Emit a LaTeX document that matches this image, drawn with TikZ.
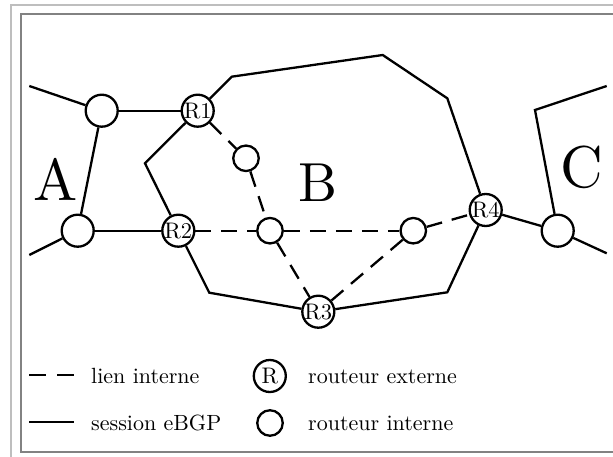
\documentclass[tikz,border=0pt]{standalone}
\usepackage{fontspec}
\setmainfont{lmroman10-regular.otf}
\begin{document}
\begin{tikzpicture}[x=1pt,y=-1pt,
  ext/.style={circle,draw,line width=2.3pt,fill=white,minimum size=32pt,inner sep=0pt,font=\fontsize{22.5}{26}\selectfont},
  int/.style={circle,draw,line width=2.3pt,fill=white,minimum size=25.5pt,inner sep=0pt},
  sess/.style={line width=2.3pt},
  lien/.style={line width=2.3pt,dash pattern=on 16pt off 10pt},
  leg/.style={anchor=base west,inner sep=0pt,font=\fontsize{22}{26}\selectfont},
  big/.style={anchor=base,inner sep=0pt}]
\useasboundingbox (0,0) rectangle (613,457);
\clip (0,0) rectangle (613,457);
% frames
\draw[line width=2pt,draw={rgb,255:red,190;green,190;blue,190}] (11,5) rectangle (625,462);
\draw[line width=2pt,draw={rgb,255:red,130;green,130;blue,130}] (20.5,14) rectangle (615.5,451.5);
% coordinates
\coordinate (a1) at (29.3,86);
\coordinate (a2) at (29.3,255);
\coordinate (p1) at (231.7,76.7);
\coordinate (p2) at (382.7,55);
\coordinate (p3) at (447.3,98.3);
\coordinate (p4) at (145,163.3);
\coordinate (p5) at (209.3,292.7);
\coordinate (p6) at (447.3,292.3);
\coordinate (c1) at (535,110);
\coordinate (c2) at (606.7,86);
\coordinate (c3) at (606.7,253.3);
% nodes
\node[ext] (at) at (101.7,110.7) {};
\node[ext] (ab) at (77.7,230.7) {};
\node[ext] (cn) at (557.7,230.7) {};
\node[ext] (r1) at (197.7,110.7) {R1};
\node[ext] (r2) at (178.3,230.7) {R2};
\node[ext] (r3) at (318.3,311.7) {R3};
\node[ext] (r4) at (485.7,210) {R4};
\node[int] (i1) at (246,158.3) {};
\node[int] (i2) at (270,230.7) {};
\node[int] (i3) at (413.3,230.7) {};
% sessions
\draw[sess] (a1) -- (at);
\draw[sess] (at) -- (r1);
\draw[sess] (at) -- (ab);
\draw[sess] (a2) -- (ab);
\draw[sess] (ab) -- (r2);
\draw[sess] (r1) -- (p1) -- (p2) -- (p3) -- (r4);
\draw[sess] (r1) -- (p4) -- (r2);
\draw[sess] (r2) -- (p5) -- (r3);
\draw[sess] (r3) -- (p6) -- (r4);
\draw[sess] (r4) -- (cn);
\draw[sess] (cn) -- (c1) -- (c2);
\draw[sess] (cn) -- (c3);
% internal links
\draw[lien] (r1) -- (i1);
\draw[lien] (i1) -- (i2);
\draw[lien] (r2) -- (i2);
\draw[lien] (i2) -- (i3);
\draw[lien] (i2) -- (r3);
\draw[lien] (i3) -- (r3);
\draw[lien] (i3) -- (r4);
% AS labels
\node[big,font=\fontsize{59}{70}\selectfont] (la) at (55.3,200.7) {A};
\node[big,font=\fontsize{55}{66}\selectfont] (lb) at (318,201.7) {B};
\node[big,font=\fontsize{59}{70}\selectfont] (lc) at (581.7,187.5) {C};
% legend
\coordinate (d1) at (29.3,375);
\coordinate (d2) at (74.3,375);
\coordinate (s1) at (29.3,421.7);
\coordinate (s2) at (74.3,421.7);
\draw[line width=2.3pt,dash pattern=on 17pt off 11pt] (d1) -- (d2);
\draw[sess] (s1) -- (s2);
\node[leg] (t1) at (91,383) {lien interne};
\node[leg] (t2) at (91,430) {session eBGP};
\node[ext] (lr) at (269.8,376) {R};
\node[int] (li) at (270,423) {};
\node[leg] (t3) at (308,383) {routeur externe};
\node[leg] (t4) at (308,430) {routeur interne};
\end{tikzpicture}
\end{document}
